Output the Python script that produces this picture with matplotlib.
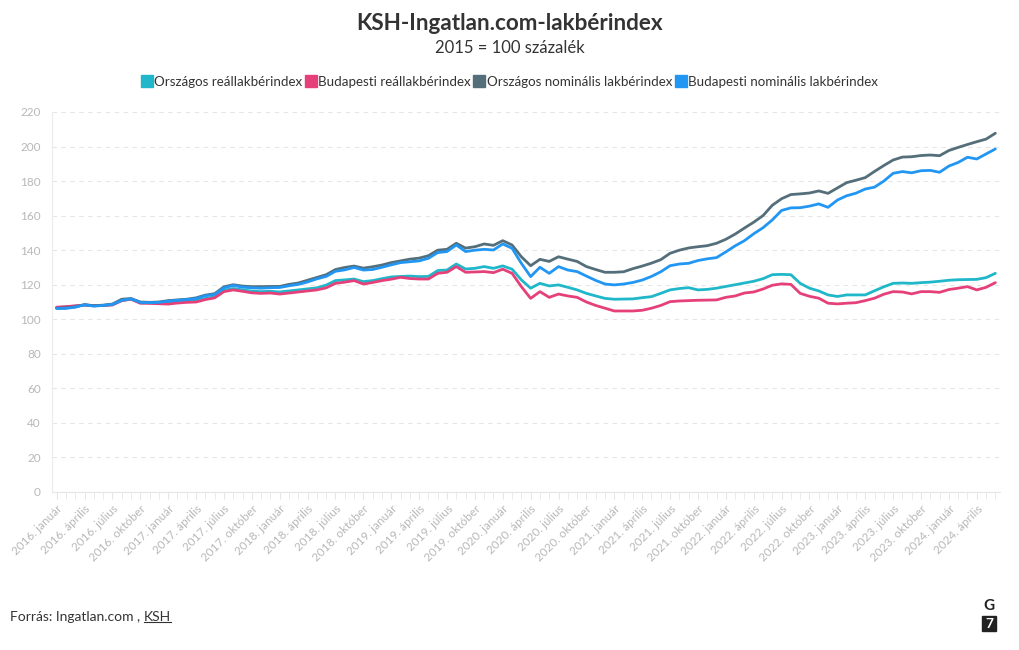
import matplotlib
matplotlib.use("Agg")
import matplotlib.pyplot as plt
from matplotlib.patches import Rectangle
from matplotlib.lines import Line2D
import numpy as np

plt.rcParams['font.family'] = ['Lato', 'DejaVu Sans']

# havi adatok, 2016. január - 2024. június
honapok = ['január', 'február', 'március', 'április', 'május', 'június',
           'július', 'augusztus', 'szeptember', 'október', 'november', 'december']
datumok = [f'{ev}. {h}' for ev in range(2016, 2025) for h in honapok][:102]

orszagos_real = [
    106.8, 107.2, 107.6, 108.2, 107.9, 108.0, 108.4, 110.8, 111.8, 109.5, 109.6, 109.4,
    109.4, 110.0, 110.4, 110.8, 112.0, 113.0, 116.8, 117.8, 117.0, 116.3, 116.0, 116.2,
    115.8, 116.4, 117.0, 117.6, 118.2, 119.8, 122.4, 122.8, 123.3, 121.8, 122.4, 123.5,
    124.5, 124.8, 125.0, 124.7, 124.8, 128.2, 128.5, 132.0, 129.1, 129.5, 130.5, 129.5,
    130.9, 129.0, 122.8, 118.0, 120.8, 119.3, 119.9, 118.5, 117.0, 115.0, 113.5, 112.1,
    111.6, 111.7, 111.8, 112.5, 113.1, 115.0, 117.0, 117.8, 118.3, 117.0, 117.3, 118.0,
    119.0, 120.0, 121.0, 122.0, 123.5, 125.8, 126.0, 125.8, 120.8, 118.0, 116.4, 114.1,
    113.2, 114.1, 114.1, 114.1, 116.5, 118.8, 120.8, 121.0, 120.8, 121.2, 121.5, 122.0,
    122.6, 122.9, 123.0, 123.1, 124.1, 126.6,
]
budapesti_real = [
    107.0, 107.3, 107.8, 108.2, 108.0, 107.9, 108.3, 110.8, 111.6, 109.3, 109.2, 109.0,
    108.8, 109.4, 109.8, 110.0, 111.4, 112.4, 116.0, 117.0, 116.2, 115.3, 115.0, 115.2,
    114.6, 115.2, 115.8, 116.4, 117.0, 118.2, 120.8, 121.5, 122.4, 120.4, 121.3, 122.4,
    123.2, 124.3, 123.6, 123.3, 123.3, 126.6, 127.2, 130.5, 127.2, 127.4, 127.6, 127.0,
    129.0, 126.6, 118.9, 112.1, 116.0, 112.7, 114.6, 113.5, 112.7, 110.0, 108.0, 106.4,
    104.8, 104.8, 104.8, 105.2, 106.4, 108.0, 110.2, 110.6, 110.8, 111.0, 111.1, 111.2,
    112.7, 113.5, 115.2, 115.8, 117.5, 119.7, 120.5, 120.2, 115.0, 113.3, 112.2, 109.3,
    108.9, 109.3, 109.6, 110.8, 112.2, 114.5, 116.0, 115.8, 114.7, 116.0, 116.0, 115.6,
    117.2, 118.0, 118.9, 117.0, 118.5, 121.2,
]
orszagos_nominalis = [
    106.4, 106.6, 107.2, 108.5, 107.8, 108.2, 108.8, 111.6, 112.0, 110.0, 109.8, 110.0,
    110.8, 111.2, 111.6, 112.4, 114.0, 114.8, 118.8, 120.0, 119.2, 118.9, 118.9, 119.0,
    119.0, 120.2, 121.0, 122.6, 124.2, 125.8, 128.8, 130.0, 130.8, 129.6, 130.4, 131.4,
    132.8, 133.8, 134.8, 135.4, 136.8, 140.0, 140.5, 144.0, 141.2, 142.0, 143.6, 142.8,
    145.5, 143.0, 136.2, 131.0, 134.7, 133.5, 136.2, 134.8, 133.5, 130.5, 128.8, 127.2,
    127.2, 127.5, 129.3, 130.8, 132.5, 134.5, 138.2, 140.0, 141.3, 142.0, 142.6, 144.0,
    146.3, 149.3, 152.8, 156.2, 160.0, 166.0, 169.8, 172.2, 172.6, 173.1, 174.3, 172.9,
    176.0, 179.1, 180.5, 182.0, 185.6, 189.0, 192.2, 193.9, 194.1, 194.8, 195.1, 194.7,
    197.7, 199.5, 201.2, 202.8, 204.3, 207.7,
]
budapesti_nominalis = [
    106.2, 106.3, 107.0, 108.4, 107.6, 108.0, 108.6, 111.0, 111.8, 109.8, 109.6, 109.8,
    110.5, 111.0, 111.4, 112.0, 113.6, 114.4, 118.2, 119.6, 118.6, 118.2, 118.0, 118.3,
    118.4, 119.4, 120.2, 121.6, 123.4, 124.8, 127.8, 128.6, 130.0, 128.5, 128.8, 130.1,
    131.5, 132.8, 133.3, 133.8, 135.3, 138.6, 139.2, 143.0, 139.2, 140.0, 140.5, 140.1,
    143.6, 141.1, 132.4, 124.7, 130.1, 126.6, 130.5, 128.5, 127.6, 125.0, 122.5, 120.4,
    119.9, 120.4, 121.3, 122.7, 124.8, 127.5, 131.0, 132.0, 132.4, 134.0, 135.0, 135.7,
    139.0, 142.5, 145.5, 149.5, 153.0, 157.5, 163.0, 164.5, 164.6, 165.5, 166.8, 164.8,
    169.0, 171.5, 173.0, 175.4, 176.5, 180.0, 184.5, 185.5, 184.8, 186.0, 186.2, 185.1,
    188.7, 190.8, 193.8, 192.8, 195.7, 198.6,
]

sorozatok = [
    ('Országos reállakbérindex', orszagos_real, '#1FB7C9'),
    ('Budapesti reállakbérindex', budapesti_real, '#E5407A'),
    ('Országos nominális lakbérindex', orszagos_nominalis, '#546E7A'),
    ('Budapesti nominális lakbérindex', budapesti_nominalis, '#2196F3'),
]

fig = plt.figure(figsize=(10.2, 6.5), dpi=100)
ax = fig.add_axes([52 / 1020, 158 / 650, 948 / 1020, 380 / 650])

x = np.arange(len(datumok))
for nev, ertekek, szin in sorozatok:
    ax.plot(x, ertekek, color=szin, linewidth=2.0, solid_capstyle='round',
            solid_joinstyle='round', label=nev)

ax.set_xlim(-0.5, len(datumok) - 0.5)
ax.set_ylim(0, 220)
ax.set_yticks(range(0, 221, 20))
ax.yaxis.grid(True, color='#e6e6e6', linestyle=(0, (4, 4)), linewidth=0.8)
ax.set_axisbelow(True)

ax.set_xticks(x, minor=True)
fo = x[::3]
ax.set_xticks(fo)
ax.set_xticklabels([datumok[i] for i in fo], rotation=45, ha='right',
                   rotation_mode='anchor', fontsize=8.5, color='#b8b8b8')
ax.tick_params(axis='x', which='both', length=5, color='#e6e6e6', pad=3)
ax.tick_params(axis='y', length=0, labelsize=8.5, labelcolor='#b8b8b8', pad=8)

for s in ['top', 'right']:
    ax.spines[s].set_visible(False)
ax.spines['left'].set_color('#ebebeb')
ax.spines['bottom'].set_color('#e6e6e6')

fig.text(0.5, 1 - 24 / 650, 'KSH-Ingatlan.com-lakbérindex', ha='center', va='center',
         fontsize=16.2, fontweight='bold', color='#333333')
fig.text(0.5, 1 - 48 / 650, '2015 = 100 százalék', ha='center', va='center',
         fontsize=12, color='#333333')

kezelok = [Line2D([], [], marker='s', linestyle='none', markersize=9,
                  markerfacecolor=sz, markeredgecolor=sz) for _, _, sz in sorozatok]
fig.legend(kezelok, [n for n, _, _ in sorozatok], loc='center', ncol=4,
           bbox_to_anchor=(0.5, 1 - 82 / 650), frameon=False, fontsize=9.6,
           handlelength=0.7, handletextpad=0.2, columnspacing=0.3, labelcolor='#333333')

# forrás
t1 = fig.text(10 / 1020, 1 - 617 / 650, 'Forrás: Ingatlan.com , ', ha='left', va='center',
              fontsize=10, color='#333333')
fig.canvas.draw()
bb = t1.get_window_extent()
t2 = fig.text(bb.x1 / 1020, 1 - 617 / 650, 'KSH', ha='left', va='center', fontsize=10,
              color='#333333')
fig.canvas.draw()
bb2 = t2.get_window_extent()
fig.add_artist(Line2D([bb2.x0 / 1020, bb2.x1 / 1020], [bb2.y0 / 650 + 0.002] * 2,
                      color='#333333', linewidth=0.8))

# G7 logó
fig.text(989 / 1020, 1 - 606 / 650, 'G', ha='center', va='center', fontsize=11,
         fontweight='bold', color='#222222')
fig.add_artist(Rectangle((982 / 1020, 1 - 631 / 650), 14 / 1020, 15 / 650,
                         transform=fig.transFigure, color='#222222'))
fig.text(989 / 1020, 1 - 623.5 / 650, '7', ha='center', va='center', fontsize=10,
         fontweight='bold', color='white')

fig.savefig('out.png', dpi=100)
